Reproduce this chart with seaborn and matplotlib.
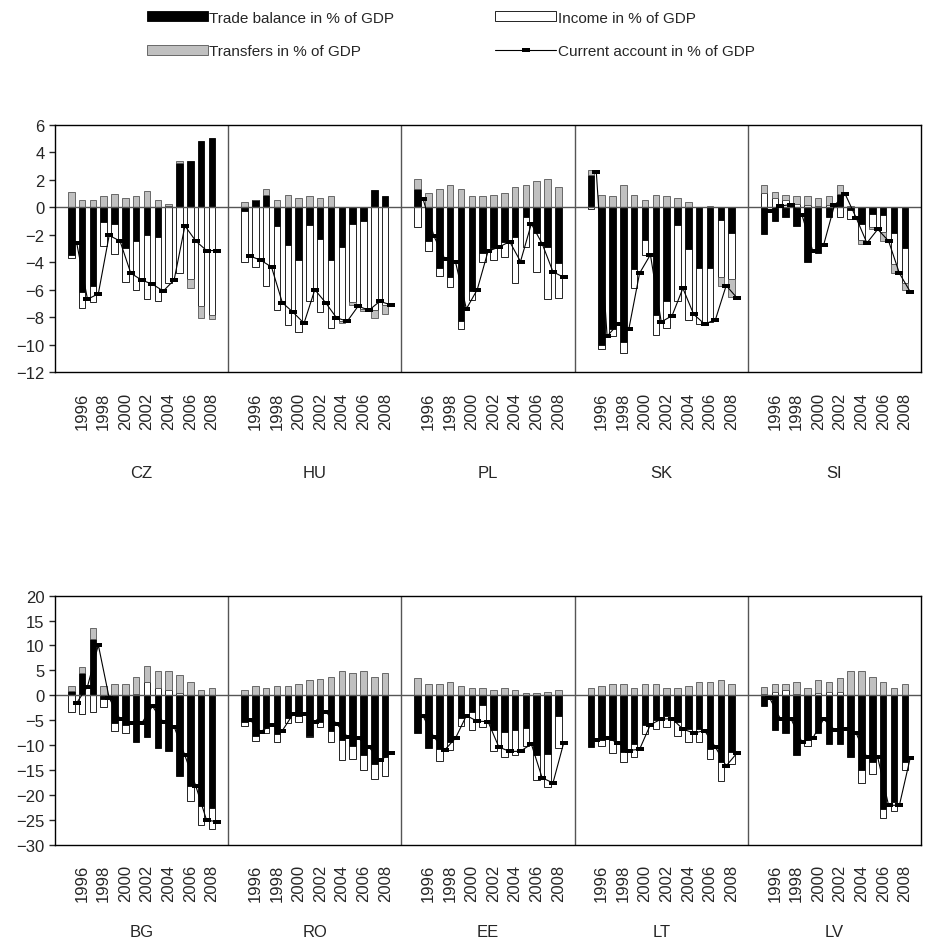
import seaborn as sns
import matplotlib.pyplot as plt
from matplotlib.patches import Patch
from matplotlib.lines import Line2D

sns.set_style('white')
plt.rcParams['font.family'] = ['Liberation Sans', 'DejaVu Sans']

years = list(range(1995, 2009))
year_labels = [1996, 1998, 2000, 2002, 2004, 2006, 2008]

# --- top row ---
CZ_trade = [-3.5, -6.15, -5.7, -1.1, -1.25, -3.0, -2.45, -2.05, -2.15, 0.1, 3.2, 3.4, 4.8, 5.05]
CZ_income = [-0.2, -1.2, -1.2, -1.75, -2.15, -2.45, -3.55, -4.65, -4.7, -5.55, -4.8, -5.2, -7.2, -7.85]
CZ_transfers = [1.1, 0.55, 0.55, 0.8, 0.95, 0.7, 0.8, 1.2, 0.55, 0.15, 0.2, -0.7, -0.85, -0.3]
CZ_ca = [-2.6, -6.7, -6.3, -2.05, -2.45, -4.8, -5.3, -5.6, -6.1, -5.3, -1.35, -2.45, -3.15, -3.15]

HU_trade = [-0.3, 0.55, 0.9, -1.35, -2.75, -3.85, -1.3, -2.3, -3.85, -2.9, -1.2, -1.0, 1.25, 0.8]
HU_income = [-3.7, -4.35, -5.7, -6.15, -5.85, -5.25, -5.5, -5.35, -4.95, -5.4, -5.7, -6.4, -7.45, -7.1]
HU_transfers = [0.4, 0.0, 0.45, 0.55, 0.9, 0.7, 0.8, 0.7, 0.8, -0.15, -0.25, -0.15, -0.6, -0.65]
HU_ca = [-3.55, -3.85, -4.35, -6.95, -7.65, -8.45, -6.0, -6.95, -8.05, -8.3, -7.2, -7.5, -6.85, -7.1]

PL_trade = [1.35, -2.45, -4.4, -5.1, -8.25, -6.1, -3.3, -3.0, -2.55, -2.15, -0.7, -1.85, -2.9, -4.05]
PL_income = [-1.45, -0.7, -0.6, -0.7, -0.65, -0.65, -0.7, -0.85, -1.05, -3.35, -2.2, -2.85, -3.8, -2.55]
PL_transfers = [0.7, 1.05, 1.35, 1.6, 1.35, 0.8, 0.8, 0.9, 1.05, 1.5, 1.6, 1.9, 2.05, 1.5]
PL_ca = [0.6, -2.1, -3.75, -4.0, -7.4, -6.0, -3.2, -2.9, -2.5, -3.95, -1.2, -2.65, -4.7, -5.1]

SK_trade = [2.35, -10.0, -8.9, -9.85, -4.5, -2.35, -7.85, -6.85, -1.3, -3.05, -4.45, -4.45, -0.9, -1.85]
SK_income = [-0.1, -0.3, -0.45, -0.75, -1.4, -1.15, -1.45, -1.95, -5.5, -5.15, -4.05, -3.9, -4.15, -3.35]
SK_transfers = [0.35, 0.9, 0.8, 1.6, 0.9, 0.55, 0.9, 0.8, 0.7, 0.4, 0.0, 0.1, -0.65, -1.3]
SK_ca = [2.6, -9.4, -8.5, -8.9, -4.8, -3.45, -8.35, -7.9, -5.9, -7.8, -8.5, -8.2, -5.7, -6.6]

SI_trade = [-1.95, -1.0, -0.7, -1.35, -3.95, -3.3, -0.7, 1.0, -0.2, -1.2, -0.45, -0.55, -1.85, -2.95]
SI_income = [1.05, 0.7, 0.5, 0.25, 0.2, 0.1, 0.2, -0.7, -0.65, -1.2, -1.0, -1.25, -2.3, -2.6]
SI_transfers = [0.55, 0.4, 0.4, 0.55, 0.6, 0.6, 0.6, 0.6, 0.1, -0.25, -0.15, -0.65, -0.6, -0.5]
SI_ca = [-0.3, 0.1, 0.2, -0.55, -3.2, -2.75, 0.15, 0.95, -0.75, -2.6, -1.6, -2.45, -4.8, -6.15]

# --- bottom row ---
BG_trade = [0.8, 4.4, 11.3, -0.75, -5.6, -5.9, -9.45, -8.3, -10.65, -11.3, -16.15, -18.15, -22.2, -22.7]
BG_income = [-3.4, -3.75, -3.4, -1.55, -1.6, -1.65, 0.25, 2.6, 1.55, 1.05, 0.4, -3.0, -3.8, -4.1]
BG_transfers = [1.0, 1.2, 2.15, 1.8, 2.2, 2.2, 3.5, 3.35, 3.35, 3.85, 3.75, 2.6, 1.15, 1.55]
BG_ca = [-1.55, 1.75, 10.1, -0.5, -4.8, -5.5, -5.65, -2.2, -5.4, -6.3, -12.1, -18.2, -25.1, -25.4]

RO_trade = [-5.3, -8.1, -6.5, -7.75, -4.55, -4.1, -8.1, -5.4, -7.1, -9.0, -10.1, -12.1, -13.8, -12.45]
RO_income = [-0.8, -1.0, -1.05, -1.55, -1.0, -1.3, -0.35, -1.0, -2.35, -4.1, -2.7, -2.85, -3.0, -3.7]
RO_transfers = [1.05, 1.8, 1.5, 1.8, 1.8, 2.2, 3.1, 3.35, 3.6, 4.8, 4.4, 4.8, 3.75, 4.4]
RO_ca = [-4.9, -7.3, -6.0, -7.1, -3.75, -3.7, -5.3, -3.3, -5.7, -8.3, -8.6, -10.4, -13.1, -11.7]

EE_trade = [-7.55, -10.65, -10.8, -9.45, -4.6, -3.4, -1.95, -6.9, -7.3, -6.95, -6.6, -12.0, -11.8, -4.2]
EE_income = [0.0, 0.0, -2.5, -1.55, -1.5, -3.5, -4.5, -4.4, -5.15, -5.05, -3.6, -4.95, -6.7, -6.45]
EE_transfers = [3.4, 2.2, 2.2, 2.6, 1.85, 1.55, 1.55, 1.05, 1.55, 1.05, 0.4, 0.4, 0.75, 1.05]
EE_ca = [-4.2, -8.4, -11.0, -8.6, -4.1, -5.2, -5.3, -10.4, -11.3, -11.25, -9.8, -16.6, -17.6, -9.5]

LT_trade = [-10.4, -9.05, -9.05, -11.4, -9.8, -5.9, -5.0, -4.2, -5.35, -6.7, -6.7, -10.7, -13.5, -11.4]
LT_income = [0.0, -1.15, -2.65, -2.1, -2.6, -1.95, -1.85, -2.15, -2.9, -2.7, -2.7, -2.05, -3.7, -2.5]
LT_transfers = [1.55, 1.95, 2.35, 2.35, 1.55, 2.35, 2.35, 1.55, 1.55, 1.95, 2.7, 2.7, 3.1, 2.35]
LT_ca = [-8.9, -8.5, -9.6, -11.1, -10.85, -5.9, -4.8, -4.7, -6.8, -7.6, -7.1, -10.4, -14.2, -11.6]

LV_trade = [-2.15, -7.05, -7.5, -12.05, -9.05, -7.5, -9.7, -9.7, -12.4, -15.05, -13.5, -22.75, -21.4, -13.5]
LV_income = [0.3, 0.7, 1.0, 0.2, -1.15, 0.4, 0.6, 0.6, 0.0, -2.5, -2.25, -1.9, -1.85, -1.55]
LV_transfers = [1.35, 1.65, 1.35, 2.5, 1.55, 2.7, 2.1, 2.9, 4.95, 4.95, 3.75, 2.7, 1.55, 2.35]
LV_ca = [-0.5, -4.7, -4.8, -9.4, -8.6, -4.8, -6.9, -6.7, -7.6, -12.5, -12.5, -22.1, -22.1, -12.6]

top_row = [
    ('CZ', CZ_trade, CZ_income, CZ_transfers, CZ_ca),
    ('HU', HU_trade, HU_income, HU_transfers, HU_ca),
    ('PL', PL_trade, PL_income, PL_transfers, PL_ca),
    ('SK', SK_trade, SK_income, SK_transfers, SK_ca),
    ('SI', SI_trade, SI_income, SI_transfers, SI_ca),
]
bottom_row = [
    ('BG', BG_trade, BG_income, BG_transfers, BG_ca),
    ('RO', RO_trade, RO_income, RO_transfers, RO_ca),
    ('EE', EE_trade, EE_income, EE_transfers, EE_ca),
    ('LT', LT_trade, LT_income, LT_transfers, LT_ca),
    ('LV', LV_trade, LV_income, LV_transfers, LV_ca),
]

GRAY = '#c0c0c0'
SLOTS = 16          # 14 years + one empty slot each side
BAR_W = 0.6
# flat rectangle marker for the current account line
rect_marker = [(-1, -0.6), (1, -0.6), (1, 0.6), (-1, 0.6), (-1, -0.6)]


def draw_row(ax, rows, ylim, ystep, label_y):
    for k, (name, trade, income, transfers, ca) in enumerate(rows):
        xs = [k * SLOTS + j + 1.5 for j in range(len(years))]
        pos = [0.0] * len(xs)
        neg = [0.0] * len(xs)
        # Excel-style stacking: positives up from 0, negatives down from 0
        for vals, fc, ec in [(trade, 'black', 'black'),
                             (income, 'white', 'black'),
                             (transfers, GRAY, '#555555')]:
            bottoms = []
            for i, v in enumerate(vals):
                if v >= 0:
                    bottoms.append(pos[i])
                    pos[i] += v
                else:
                    bottoms.append(neg[i])
                    neg[i] += v
            ax.bar(xs, vals, bottom=bottoms, width=BAR_W, color=fc,
                   edgecolor=ec, linewidth=0.6, zorder=2)
        sns.lineplot(x=[x + 0.5 for x in xs], y=ca, ax=ax, color='black',
                     linewidth=0.8, marker=rect_marker, markersize=5.5,
                     markeredgewidth=0, sort=False, estimator=None, zorder=3)
        if k > 0:
            ax.axvline(k * SLOTS, color='#555555', linewidth=1, zorder=1)
        ax.text(k * SLOTS + SLOTS / 2, label_y, name, ha='center', va='center',
                fontsize=12, transform=ax.get_xaxis_transform())

    ax.axhline(0, color='#555555', linewidth=1, zorder=2.5)
    ax.set_xlim(0, SLOTS * len(rows))
    ax.set_ylim(*ylim)
    ax.set_yticks(range(ylim[0], ylim[1] + 1, ystep))
    ticks = [k * SLOTS + (y - years[0]) + 1.5 for k in range(len(rows)) for y in year_labels]
    ax.set_xticks(ticks)
    ax.set_xticklabels([str(y) for _ in rows for y in year_labels], rotation=90, fontsize=12)
    ax.tick_params(axis='x', length=0, pad=14)
    ax.tick_params(axis='y', length=4, width=1, labelsize=12, left=True, direction='out')
    for sp in ax.spines.values():
        sp.set_color('black')
        sp.set_linewidth(1)
    ax.grid(False)


fig = plt.figure(figsize=(9.31, 9.53), dpi=100)
ax_top = fig.add_axes([0.0591, 0.6086, 0.9302, 0.2592])
ax_bot = fig.add_axes([0.0591, 0.1127, 0.9302, 0.2612])

draw_row(ax_top, top_row, (-12, 6), 2, -0.405)
draw_row(ax_bot, bottom_row, (-30, 20), 5, -0.351)

handles = [
    Patch(facecolor='black', edgecolor='black', linewidth=0.6),
    Patch(facecolor=GRAY, edgecolor='#555555', linewidth=0.6),
    Patch(facecolor='white', edgecolor='black', linewidth=0.6),
    Line2D([0], [0], color='black', linewidth=0.8, marker=rect_marker,
           markersize=5.5, markeredgewidth=0),
]
labels = ['Trade balance in % of GDP', 'Transfers in % of GDP',
          'Income in % of GDP', 'Current account in % of GDP']
fig.legend(handles, labels, loc='upper left', bbox_to_anchor=(139 / 931, 1 - 4 / 953),
           ncol=2, frameon=False, fontsize=11, handlelength=4.0, handleheight=0.6,
           handletextpad=0.1, columnspacing=6.6, labelspacing=1.3, borderpad=0)

fig.savefig('out.png', dpi=100)
